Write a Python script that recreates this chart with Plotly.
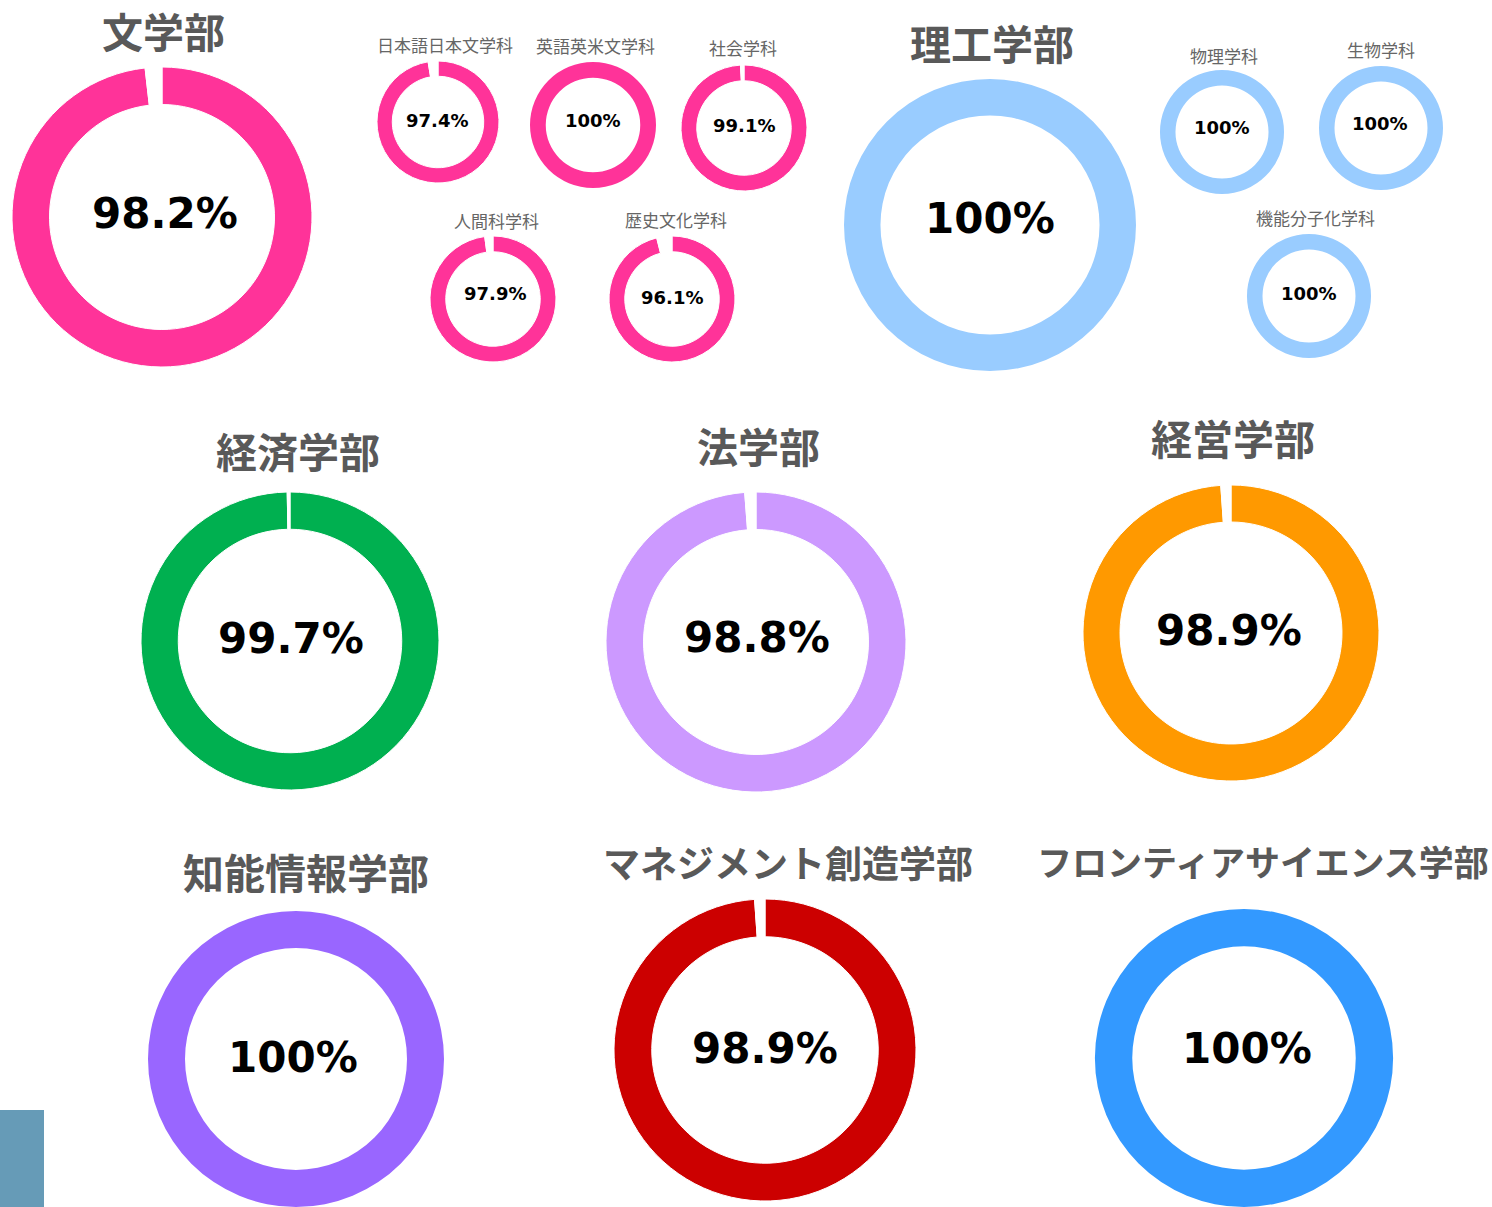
import plotly.graph_objects as go

W, H = 1492, 1207

# ---- data ----
names = ["文学部", "日本語日本文学科", "英語英米文学科", "社会学科", "人間科学科", "歴史文化学科",
         "理工学部", "物理学科", "生物学科", "機能分子化学科",
         "経済学部", "法学部", "経営学部",
         "知能情報学部", "マネジメント創造学部", "フロンティアサイエンス学部"]
rates = [98.2, 97.4, 100, 99.1, 97.9, 96.1,
         100, 100, 100, 100,
         99.7, 98.8, 98.9,
         100, 98.9, 100]
labels = ["98.2%", "97.4%", "100%", "99.1%", "97.9%", "96.1%",
          "100%", "100%", "100%", "100%",
          "99.7%", "98.8%", "98.9%",
          "100%", "98.9%", "100%"]

# ---- styles / layout (pixels) ----
colors = ["#FF3399"] * 6 + ["#99CCFF"] * 4 + ["#00B050", "#CC99FF", "#FF9900",
                                              "#9966FF", "#CC0000", "#3399FF"]
# center x, center y, outer radius
geom = [(162, 217, 150), (438, 122, 61), (593, 125, 63), (744, 128, 63), (493, 299, 63), (672, 299, 63),
        (990, 225, 146), (1222, 132, 62), (1381, 128, 62), (1309, 296, 62),
        (290, 641, 149), (756, 642, 150), (1231, 633, 148),
        (296, 1059, 148), (765, 1050, 151), (1244, 1058, 149)]
# title position and size
title_pos = [(163, 30, 41), (445, 44, 17), (595, 46, 17), (743, 48, 17), (496, 221, 17), (676, 220, 17),
             (992, 42, 41), (1224, 55, 17), (1381, 50, 17), (1315, 217, 17),
             (298, 450, 41), (758, 445, 41), (1233, 437, 41),
             (306, 871, 41), (788, 862, 37), (1263, 860, 35)]
text_pos = [(165, 213, 42), (437, 121, 18), (593, 121, 18), (744, 125, 18), (495, 293, 18), (672, 297, 18),
            (990, 218, 42), (1222, 127, 18), (1380, 123, 18), (1309, 293, 18),
            (291, 638, 42), (757, 637, 42), (1229, 630, 42),
            (293, 1057, 42), (765, 1048, 42), (1247, 1048, 42)]
big = [True, False, False, False, False, False, True, False, False, False,
       True, True, True, True, True, True]


def px(x):
    return x / W


def py(y):
    return 1 - y / H


fig = go.Figure()
annotations = []
for i, name in enumerate(names):
    cx, cy, r = geom[i]
    v = rates[i]
    if v >= 100:
        vals, labs, cols, lw = [v], [name], [colors[i]], 0
    else:
        vals, labs, cols, lw = [v, 100 - v], [name, "その他"], [colors[i], "#FFFFFF"], 1
    fig.add_trace(go.Pie(
        values=vals,
        labels=labs,
        sort=False,
        direction="clockwise",
        rotation=0,
        hole=0.75,
        marker=dict(colors=cols, line=dict(color="#FFFFFF", width=lw)),
        textinfo="none",
        hoverinfo="skip",
        showlegend=False,
        domain=dict(x=[max(0, px(cx - r)), min(1, px(cx + r))],
                    y=[max(0, py(cy + r)), min(1, py(cy - r))]),
    ))
    tx, ty, ts = title_pos[i]
    annotations.append(dict(
        x=px(tx), y=py(ty), xref="paper", yref="paper", showarrow=False,
        text=f"<b>{name}</b>" if big[i] else name,
        font=dict(family="Noto Sans CJK JP", size=ts, color="#595959" if big[i] else "#666666"),
        xanchor="center", yanchor="middle"))
    lx, ly, ls = text_pos[i]
    annotations.append(dict(
        x=px(lx), y=py(ly), xref="paper", yref="paper", showarrow=False,
        text=f"<b>{labels[i]}</b>",
        font=dict(family="DejaVu Sans", size=ls, color="#000000"),
        xanchor="center", yanchor="middle"))

fig.update_layout(
    width=W, height=H,
    margin=dict(l=0, r=0, t=0, b=0),
    paper_bgcolor="white", plot_bgcolor="white",
    annotations=annotations,
    shapes=[dict(type="rect", xref="paper", yref="paper",
                 x0=0, x1=px(44), y0=0, y1=py(1110),
                 fillcolor="#669BB7", line=dict(width=0), layer="below")],
)

fig.write_html("out.html", config={"displayModeBar": False},
               post_script="document.body.style.margin='0';document.body.style.overflow='hidden';")
